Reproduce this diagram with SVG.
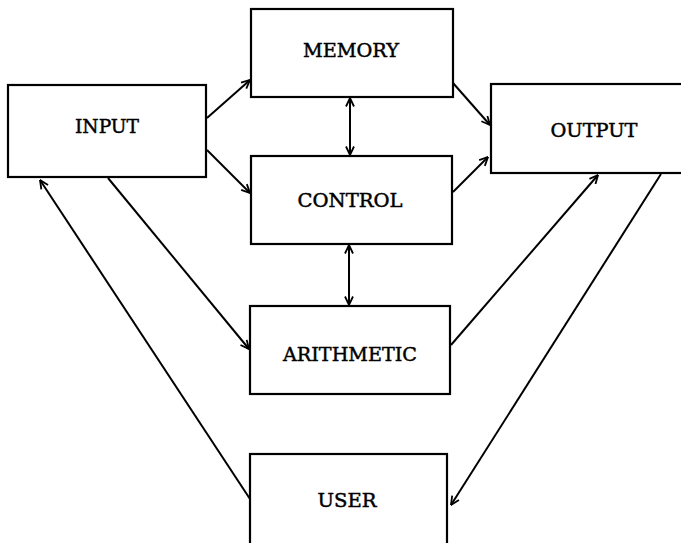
<svg xmlns="http://www.w3.org/2000/svg" width="681" height="543" viewBox="0 0 681 543">
<style>
.box{fill:#fff;stroke:#000;stroke-width:2.2}
.lbl{font-family:"DejaVu Serif","Liberation Serif",serif;font-size:18.5px;fill:#000;stroke:#000;stroke-width:0.45;text-anchor:middle}
.c{fill:none;stroke:#000;stroke-width:2}
</style>
<defs>
<marker id="ah" viewBox="0 0 10 10" refX="9.5" refY="5" markerWidth="10" markerHeight="10" markerUnits="userSpaceOnUse" orient="auto-start-reverse">
<path d="M1,1 L9.5,5 L1,9" fill="none" stroke="#000" stroke-width="1.8"/>
</marker>
</defs>
<rect width="681" height="543" fill="#fff"/>
<g id="connectors">
<line class="c" x1="207" y1="118" x2="250" y2="80" marker-end="url(#ah)"/>
<line class="c" x1="207" y1="150" x2="250" y2="193" marker-end="url(#ah)"/>
<line class="c" x1="350" y1="98" x2="350" y2="155" marker-start="url(#ah)" marker-end="url(#ah)"/>
<line class="c" x1="453" y1="83" x2="490" y2="125" marker-end="url(#ah)"/>
<line class="c" x1="453" y1="192" x2="488" y2="157" marker-end="url(#ah)"/>
<line class="c" x1="349" y1="245" x2="349" y2="305" marker-start="url(#ah)" marker-end="url(#ah)"/>
<line class="c" x1="108" y1="178" x2="249" y2="349" marker-end="url(#ah)"/>
<line class="c" x1="250" y1="499" x2="40" y2="180" marker-end="url(#ah)"/>
<line class="c" x1="451" y1="345" x2="598" y2="175" marker-end="url(#ah)"/>
<line class="c" x1="661" y1="174" x2="451" y2="505" marker-end="url(#ah)"/>
</g>
<g id="input"><rect class="box" x="8" y="85" width="198" height="92"/><text class="lbl" x="107" y="133" textLength="64" lengthAdjust="spacingAndGlyphs">INPUT</text></g>
<g id="memory"><rect class="box" x="251" y="9" width="202" height="88"/><text class="lbl" x="351" y="57" textLength="96" lengthAdjust="spacingAndGlyphs">MEMORY</text></g>
<g id="control"><rect class="box" x="251" y="156" width="201" height="88"/><text class="lbl" x="350" y="207" textLength="105" lengthAdjust="spacingAndGlyphs">CONTROL</text></g>
<g id="output"><rect class="box" x="491" y="84" width="195" height="89"/><text class="lbl" x="594" y="137" textLength="87" lengthAdjust="spacingAndGlyphs">OUTPUT</text></g>
<g id="arithmetic"><rect class="box" x="250" y="306" width="200" height="88"/><text class="lbl" x="350" y="361" textLength="134" lengthAdjust="spacingAndGlyphs">ARITHMETIC</text></g>
<g id="user"><rect class="box" x="250" y="454" width="197" height="95"/><text class="lbl" x="347" y="507" textLength="59" lengthAdjust="spacingAndGlyphs">USER</text></g>
</svg>
